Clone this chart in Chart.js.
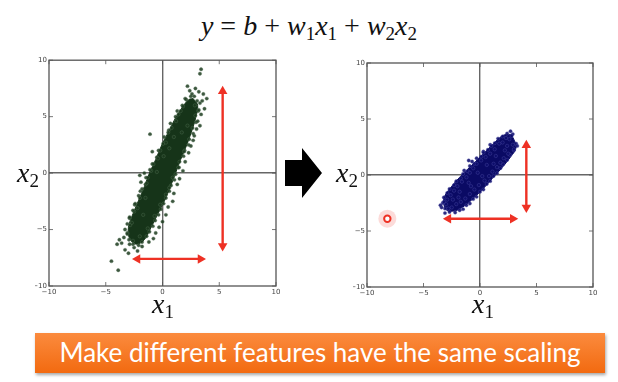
<!DOCTYPE html>
<html><head><meta charset="utf-8">
<script src="https://cdn.jsdelivr.net/npm/chart.js@4"></script>
<style>
body{margin:0;width:618px;height:382px;background:#fff;position:relative;overflow:hidden}
canvas{position:absolute}
.math{position:absolute;font-family:"Liberation Serif",serif;color:#111;white-space:nowrap}
.math i{font-style:italic}
.math sub{font-size:68%;vertical-align:-0.28em}
#banner{position:absolute;left:35px;top:333px;width:570px;height:40px;background:linear-gradient(#fb8b3e,#f26a10);color:#fff;font-family:Lato,sans-serif;font-size:26px;text-align:center;line-height:39px;box-shadow:1px 2px 3px rgba(0,0,0,.35)}
#bigArrow{position:absolute;left:285px;top:148px;width:37px;height:50px;background:#000;clip-path:polygon(0 24%,46% 24%,46% 0,100% 50%,46% 100%,46% 76%,0 76%)}
</style></head><body>
<div class="math" style="left:0;width:618px;text-align:center;top:10px;font-size:28px"><i>y</i> = <i>b</i> + <i>w</i><sub>1</sub><i>x</i><sub>1</sub> + <i>w</i><sub>2</sub><i>x</i><sub>2</sub></div>
<canvas id="left" width="249" height="242" style="left:35px;top:54px"></canvas>
<canvas id="right" width="249" height="243" style="left:353px;top:54px"></canvas>
<div class="math" style="left:17px;top:157px;font-size:28px"><i>x</i><sub>2</sub></div>
<div class="math" style="left:336px;top:157px;font-size:28px"><i>x</i><sub>2</sub></div>
<div class="math" style="left:152px;top:288px;font-size:28px"><i>x</i><sub>1</sub></div>
<div class="math" style="left:472px;top:288px;font-size:28px"><i>x</i><sub>1</sub></div>
<div id="bigArrow"></div>
<div id="banner">Make different features have the same scaling</div>
<script>
const tickVals=[-10,-5,0,5,10];

// left: raw features, long thin cloud
const leftCore=[[2.7,6.6],[3.1,6.0],[2.9,4.8],[2.6,3.8],[2.1,2.4],[1.6,1.2],[1.15,0.0],[0.7,-1.2],[0.2,-2.4],[-0.4,-3.6],[-1.0,-4.8],[-1.6,-5.9],[-2.3,-6.3],[-2.9,-5.8],[-3.0,-4.8],[-2.6,-3.6],[-2.1,-2.4],[-1.6,-1.2],[-1.15,0.0],[-0.6,1.2],[-0.1,2.4],[0.5,3.6],[1.1,4.8],[1.8,5.9],[2.3,6.5],[2.7,6.6]];
const leftEdge=[[3.05,6.4],[2.85,6.0],[3.15,5.5],[2.9,5.1],[2.95,4.5],[2.65,4.0],[2.7,3.5],[2.35,3.0],[2.3,2.5],[1.95,2.0],[1.85,1.5],[1.5,1.0],[1.45,0.5],[1.15,-0.1],[1.05,-0.6],[0.75,-1.1],[0.6,-1.6],[0.3,-2.2],[0.1,-2.7],[-0.15,-3.2],[-0.35,-3.7],[-0.65,-4.2],[-0.85,-4.7],[-1.15,-5.2],[-1.4,-5.6],[-1.8,-6.1],[-2.1,-6.4],[-2.6,-6.3],[-2.95,-5.9],[-3.1,-5.3],[-2.85,-4.6],[-2.9,-4.0],[-2.5,-3.4],[-2.45,-2.8],[-2.0,-2.2],[-1.95,-1.6],[-1.5,-1.0],[-1.45,-0.4],[-1.0,0.2],[-0.9,0.8],[-0.5,1.4],[-0.35,2.0],[0.05,2.6],[0.15,3.2],[0.55,3.8],[0.7,4.4],[1.15,5.0],[1.3,5.5],[1.75,6.0],[2.1,6.5],[2.5,6.8]];
const leftPts=[[3.4,9.2],[3.3,8.8],[2.2,7.7],[2.9,7.5],[3.2,7.2],[3.6,7.0],[2.6,7.0],[3.9,6.6],[3.7,5.7],[3.3,6.2],[2.0,6.6],[1.8,5.9],[3.4,5.2],[3.1,4.6],[1.4,5.2],[1.2,4.6],[3.0,3.9],[0.8,4.0],[2.8,3.3],[0.5,3.6],[0.3,2.7],[2.5,2.4],[2.3,1.8],[-0.2,2.0],[-1.1,3.45],[-0.4,1.3],[2.0,1.0],[-0.8,0.8],[1.8,0.2],[-1.1,0.3],[1.5,-0.5],[-1.6,0.0],[-2.0,-0.2],[1.3,-1.0],[-1.4,-0.9],[1.0,-1.8],[-1.8,-1.4],[0.9,-2.5],[-2.1,-2.0],[0.5,-3.0],[-2.4,-2.7],[0.3,-3.7],[-2.6,-3.3],[0.0,-4.3],[-2.9,-3.9],[-0.3,-4.8],[-3.1,-4.5],[-0.6,-5.3],[-3.3,-5.0],[-0.8,-5.8],[-3.4,-5.7],[-1.2,-6.1],[-2.9,-6.3],[-3.6,-6.2],[-2.5,-6.6],[-1.8,-6.5],[-4.0,-6.3],[-3.3,-6.8],[-4.5,-7.8],[-3.9,-8.6],[-2.2,-6.9],[-3.0,-7.1],[2.4,7.3],[2.8,6.8],[3.5,6.4],[1.6,5.5],[3.2,5.6],[2.2,4.2],[1.0,3.2],[2.7,2.9],[0.6,2.2],[1.9,1.9],[0.1,1.5],[1.4,0.5],[-0.5,0.1],[0.9,-0.4],[-1.3,-0.4],[0.6,-1.3],[-1.9,-0.8],[0.3,-1.9],[-1.5,-2.2],[-0.2,-2.8],[-2.2,-3.1],[-0.7,-3.8],[-2.7,-4.4],[-1.3,-4.9],[-2.0,-5.6],[-3.1,-5.4],[-2.6,-6.0],[-3.8,-5.9],[1.7,3.6],[3.3,4.2],[-0.9,1.9],[-1.7,-3.7]];
const leftArrowV=[[5.3,7.25],[5.3,-6.45]];
const leftArrowH=[[-2.2,-7.6],[3.35,-7.6]];

// right: scaled features, compact cloud
const rightCore=[[2.8,3.6],[3.2,2.5],[2.7,1.6],[1.9,0.6],[1.1,-0.3],[0.3,-1.2],[-0.5,-2.0],[-1.3,-2.7],[-2.2,-3.2],[-3.0,-3.1],[-3.2,-2.1],[-2.5,-1.0],[-1.7,-0.1],[-0.8,0.8],[0.0,1.6],[0.8,2.4],[1.6,3.2],[2.2,3.6],[2.8,3.6]];
const rightEdge=[[3.2,2.8],[3.0,2.2],[2.65,1.8],[2.4,1.35],[2.05,0.95],[1.8,0.6],[1.5,0.15],[1.2,-0.1],[0.9,-0.55],[0.6,-0.8],[0.3,-1.3],[0.0,-1.5],[-0.3,-1.95],[-0.6,-2.15],[-0.9,-2.55],[-1.2,-2.7],[-1.5,-3.05],[-1.8,-3.15],[-2.2,-3.35],[-2.7,-3.3],[-3.1,-3.0],[-3.3,-2.5],[-3.2,-2.0],[-2.9,-1.6],[-2.7,-1.25],[-2.3,-0.9],[-2.1,-0.55],[-1.7,-0.3],[-1.5,0.1],[-1.1,0.35],[-0.9,0.8],[-0.5,1.0],[-0.3,1.5],[0.1,1.65],[0.3,2.1],[0.7,2.25],[0.9,2.7],[1.3,2.85],[1.6,3.25],[2.0,3.45],[2.4,3.7],[2.9,3.65]];
const rightPts=[[2.8,3.5],[2.6,3.2],[2.9,2.7],[3.0,2.3],[2.3,3.3],[2.0,2.9],[1.7,2.8],[2.5,1.9],[1.3,2.3],[2.1,1.5],[0.9,1.9],[1.8,1.1],[0.5,1.6],[1.5,0.7],[0.1,1.3],[1.1,0.3],[-0.3,1.0],[0.8,-0.1],[-0.6,0.6],[0.4,-0.5],[-0.9,0.2],[-0.1,-0.9],[-1.2,-0.2],[-0.5,-1.3],[-1.6,-0.6],[-0.9,-1.7],[-2.0,-1.0],[-1.3,-2.1],[-2.3,-1.4],[-1.7,-2.4],[-2.6,-1.8],[-2.1,-2.6],[-2.9,-2.2],[-2.5,-2.9],[-3.4,-2.9],[-3.0,-2.6],[-3.2,-2.4],[-2.8,-3.0],[-0.7,1.2],[-1.4,0.4],[0.3,2.0],[1.0,2.6],[-1.0,1.3],[2.4,2.6],[1.4,1.7],[0.6,0.9],[-0.2,0.2],[-1.0,-0.7],[-1.8,-1.5],[-2.4,-2.2],[2.2,2.2],[1.2,1.0],[0.2,-0.1],[-0.8,-1.0],[-1.9,-2.0],[-3.5,-2.7],[-3.1,-3.4],[3.3,2.6],[2.7,3.9]];
const rightArrowV=[[4.1,2.65],[4.1,-2.9]];
const rightArrowH=[[-2.8,-3.9],[2.9,-3.9]];
const outlier=[[-8.2,-3.9]];

const red='#ee3124';
const xy=a=>a.map(p=>({x:p[0],y:p[1]}));
const fmt=v=>String(v).replace('-','\u2212');

const frame={id:'frame',afterDraw(c){
const a=c.chartArea,sx=c.scales.x,sy=c.scales.y,g=c.ctx;
g.save();g.strokeStyle='#555';g.lineWidth=1.3;
g.strokeRect(a.left,a.top,a.width,a.height);
g.beginPath();
tickVals.forEach(v=>{
let px=sx.getPixelForValue(v),py=sy.getPixelForValue(v);
g.moveTo(px,a.bottom);g.lineTo(px,a.bottom-4);
g.moveTo(px,a.top);g.lineTo(px,a.top+4);
g.moveTo(a.left,py);g.lineTo(a.left+4,py);
g.moveTo(a.right,py);g.lineTo(a.right-4,py);
});
g.lineWidth=0.8;g.stroke();g.restore();
}};

function axis(fit){
return {type:'linear',min:-10,max:10,
ticks:{stepSize:5,padding:2,maxRotation:0,autoSkip:false,color:'#444',font:{size:7,family:'DejaVu Sans'},callback:fmt},
grid:{drawTicks:false,lineWidth:1.4,color:c=>c.tick&&c.tick.value===0?'#666':'rgba(0,0,0,0)'},
border:{display:false},afterFit:fit};
}

function arrow(pts,rot){
return {type:'line',data:xy(pts),borderColor:red,backgroundColor:red,borderWidth:2.4,
pointStyle:'triangle',pointRadius:5.5,pointRotation:rot,pointBorderWidth:0,order:0};
}

function dots(pts,bg,edge,ord){
return {type:'scatter',data:xy(pts),backgroundColor:bg,borderColor:edge,borderWidth:0.7,pointRadius:1.7,order:ord};
}

function plot(id,core,edge,pts,coreCol,ptCol,ptEdge,av,ah,extra){
let ds=[
{type:'line',data:xy(core),fill:'shape',tension:0.35,backgroundColor:coreCol,borderColor:coreCol,borderWidth:1,pointRadius:0,order:4},
dots(edge,ptCol,ptEdge,3),
dots(pts,ptCol,ptEdge,2),
arrow(av,[0,180]),
arrow(ah,[270,90])
].concat(extra);
new Chart(document.getElementById(id),{
type:'scatter',
data:{datasets:ds},
options:{responsive:false,animation:false,
layout:{padding:{top:6,right:8,left:0,bottom:0}},
plugins:{legend:{display:false},tooltip:{enabled:false}},
scales:{x:axis(s=>{s.height=10}),y:axis(s=>{s.width=14})}},
plugins:[frame]
});
}

plot('left',leftCore,leftEdge,leftPts,'#163419','rgba(28,58,30,0.85)','rgba(85,115,87,0.55)',leftArrowV,leftArrowH,[]);
plot('right',rightCore,rightEdge,rightPts,'#0a0a64','rgba(14,14,108,0.88)','rgba(80,80,165,0.55)',rightArrowV,rightArrowH,[
{type:'scatter',data:xy(outlier),pointRadius:9,backgroundColor:'rgba(240,90,80,0.22)',borderWidth:0,order:1},
{type:'scatter',data:xy(outlier),pointRadius:3.2,backgroundColor:'#fff',borderColor:red,borderWidth:2,order:0}
]);
</script>
</body></html>
